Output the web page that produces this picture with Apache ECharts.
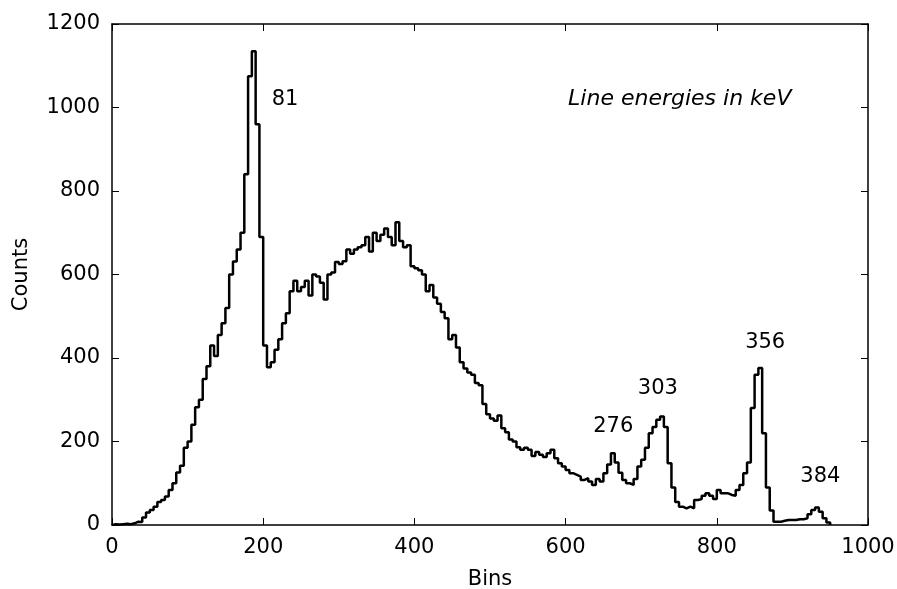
<!DOCTYPE html>
<html>
<head>
<meta charset="utf-8">
<script src="https://cdn.jsdelivr.net/npm/echarts@6/dist/echarts.min.js"></script>
<style>
html,body{margin:0;padding:0;background:#fff;}
#chart{width:897px;height:589px;}
</style>
</head>
<body>
<div id="chart"></div>
<script>
// Histogram counts, bin width 5, starting at 0
const binWidth = 5;
const counts = [
  2, 1, 2, 3, 2, 4, 8, 7, 18, 30,
  36, 44, 55, 60, 68, 84, 100, 126, 142, 185,
  200, 240, 282, 300, 350, 380, 430, 405, 455, 483,
  520, 600, 631, 660, 700, 840, 1075, 1135, 960, 690,
  430, 378, 390, 420, 445, 483, 507, 560, 585, 560,
  570, 585, 550, 600, 595, 580, 540, 600, 605, 630,
  625, 632, 660, 650, 660, 665, 670, 690, 655, 700,
  680, 695, 710, 690, 670, 725, 680, 665, 670, 620,
  615, 610, 600, 560, 575, 545, 530, 510, 495, 445,
  455, 425, 390, 375, 365, 360, 340, 335, 290, 265,
  255, 250, 262, 232, 222, 205, 200, 186, 180, 185,
  180, 165, 175, 168, 163, 172, 180, 160, 148, 140,
  132, 124, 120, 116, 108, 112, 104, 96, 110, 104,
  124, 145, 172, 150, 125, 108, 100, 96, 110, 140,
  156, 185, 220, 235, 252, 260, 235, 148, 90, 55,
  44, 40, 44, 40, 60, 62, 70, 76, 70, 62,
  84, 76, 76, 72, 70, 84, 96, 124, 150, 280,
  360, 376, 220, 90, 35, 8, 8, 10, 12, 12,
  12, 14, 14, 16, 26, 36, 42, 32, 16, 6
];
const xTicks = [0, 200, 400, 600, 800, 1000];
const yTicks = [0, 200, 400, 600, 800, 1000, 1200];
const annoX = [229, 663, 722, 864, 937];
const annoY = [1020, 235, 328, 436, 115];
const annoText = ['81', '276', '303', '356', '384'];
const noteText = 'Line energies in keV';
const noteX = 751, noteY = 1020;

const stepData = [[0, 0]];
counts.forEach((c, i) => stepData.push([i * binWidth, c]));
stepData.push([counts.length * binWidth, 0]);

const FONT = 'DejaVu Sans';
const axisCommon = {
  type: 'value',
  axisLine: { show: true, onZero: false, lineStyle: { color: '#000', width: 1.5 } },
  axisTick: { show: true, inside: true, length: 7, lineStyle: { color: '#000', width: 1 } },
  splitLine: { show: false },
  axisLabel: { color: '#000', fontFamily: FONT, fontSize: 21, formatter: v => String(v) }
};

const chart = echarts.init(document.getElementById('chart'), null, { renderer: 'canvas' });
chart.setOption({
  animation: false,
  backgroundColor: '#fff',
  grid: { left: 112, right: 29, top: 24, bottom: 64, containLabel: false, outerBoundsMode: 'none' },
  xAxis: [
    Object.assign({}, axisCommon, {
      min: xTicks[0], max: xTicks[xTicks.length - 1], interval: 200,
      position: 'bottom',
      name: 'Bins', nameLocation: 'middle', nameGap: 44,
      nameTextStyle: { color: '#000', fontFamily: FONT, fontSize: 21 },
      axisLabel: Object.assign({}, axisCommon.axisLabel, { margin: 12 })
    }),
    Object.assign({}, axisCommon, {
      min: xTicks[0], max: xTicks[xTicks.length - 1], interval: 200,
      position: 'top', axisLabel: { show: false }
    })
  ],
  yAxis: [
    Object.assign({}, axisCommon, {
      min: yTicks[0], max: yTicks[yTicks.length - 1], interval: 200,
      position: 'left',
      name: 'Counts', nameLocation: 'middle', nameGap: 80,
      nameTextStyle: { color: '#000', fontFamily: FONT, fontSize: 21 },
      axisLabel: Object.assign({}, axisCommon.axisLabel, { margin: 12 })
    }),
    Object.assign({}, axisCommon, {
      min: yTicks[0], max: yTicks[yTicks.length - 1], interval: 200,
      position: 'right', axisLabel: { show: false }
    })
  ],
  series: [
    {
      type: 'line',
      step: 'end',
      data: stepData,
      symbol: 'none',
      lineStyle: { color: '#000', width: 2.5 },
      silent: true
    },
    {
      type: 'scatter',
      symbolSize: 0,
      itemStyle: { opacity: 1 },
      data: annoX.map((x, i) => ({ value: [x, annoY[i]], name: annoText[i] })),
      label: {
        show: true, position: 'inside', formatter: p => p.name,
        color: '#000', fontFamily: FONT, fontSize: 21
      },
      silent: true
    },
    {
      type: 'scatter',
      symbolSize: 0,
      itemStyle: { opacity: 1 },
      data: [{ value: [noteX, noteY], name: noteText }],
      label: {
        show: true, position: 'inside', formatter: p => p.name,
        color: '#000', fontFamily: FONT, fontSize: 22, fontStyle: 'italic'
      },
      silent: true
    }
  ]
});
</script>
</body>
</html>
